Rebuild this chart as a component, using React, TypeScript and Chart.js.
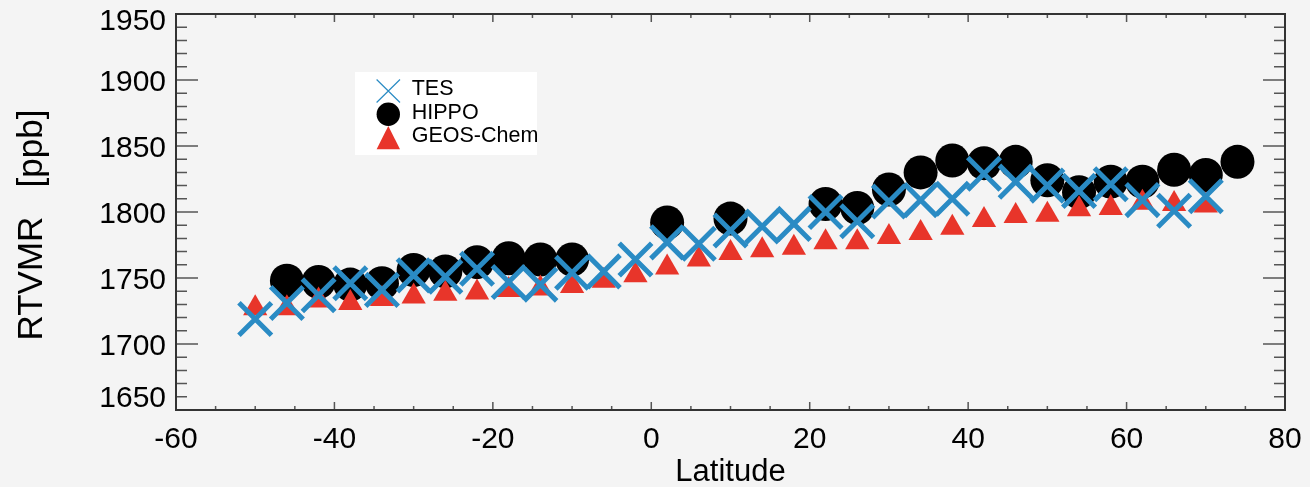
import React, { useEffect, useRef } from "react";
import { Chart, registerables } from "chart.js";

Chart.register(...registerables);

// ---- data ----
const latitudes = [-50, -46, -42, -38, -34, -30, -26, -22, -18, -14, -10, -6, -2, 2, 6, 10, 14, 18, 22, 26, 30, 34, 38, 42, 46, 50, 54, 58, 62, 66, 70, 74];

const tesValues = [1719, 1731, 1737, 1746, 1741, 1752, 1751, 1757, 1747, 1745, 1754, 1755, 1764, 1777, 1776, 1786, 1789, 1791, 1800, 1793, 1808, 1809, 1810, 1829, 1823, 1820, 1816, 1821, 1809, 1801, 1812, null];

const hippoValues = [null, 1748, 1747, 1745, 1746, 1756, 1755, 1762, 1765, 1764, 1764, null, null, 1792, null, 1795, null, null, 1806, 1803, 1817, 1830, 1839, 1837, 1838, 1824, 1815, 1823, 1823, 1832, 1828, 1838];

const geosValues = [1727, 1727, 1733, 1731, 1734, 1736, 1738, 1739, 1741, 1742, 1744, 1748, 1752, 1758, 1764, 1769, 1771, 1773, 1777, 1777, 1781, 1784, 1788, 1794, 1797, 1798, 1802, 1803, 1807, 1806, 1805, null];

const seriesNames = ["TES", "HIPPO", "GEOS-Chem"];
const xTitle = "Latitude";
const yTitle = "RTVMR   [ppb]";

const xMin = -60;
const xMax = 80;
const xMajorStep = 20;
const xMinorStep = 5;
const yMin = 1650;
const yMax = 1950;
const yMajorStep = 50;
const yMinorStep = 10;

// ---- styles ----
const FONT = "'Liberation Sans', Arial, Helvetica, sans-serif";
const BLUE = "#2a8bc4";
const RED = "#e8352a";
const BLACK = "#000000";
const BG = "#f4f4f4";

const toPoints = (vals: (number | null)[]) =>
  latitudes
    .map((lat, i) => ({ x: lat, y: vals[i] }))
    .filter((p) => p.y !== null) as { x: number; y: number }[];

const framePlugin = {
  id: "idlFrame",
  afterDraw(chart: any) {
    const { ctx, chartArea } = chart;
    const { left, right, top, bottom } = chartArea;
    const xs = chart.scales.x;
    const ys = chart.scales.y;
    ctx.save();
    ctx.strokeStyle = "#555";
    ctx.lineWidth = 1.5;
    ctx.beginPath();
    // y ticks (left & right, inward)
    for (let v = yMin; v <= yMax + 1e-6; v += yMinorStep) {
      const p = ys.getPixelForValue(v);
      const major = Math.abs((v - yMin) % yMajorStep) < 1e-6;
      const len = major ? 22 : 11;
      ctx.moveTo(left, p);
      ctx.lineTo(left + len, p);
      ctx.moveTo(right, p);
      ctx.lineTo(right - len, p);
    }
    // x ticks (bottom & top, inward)
    for (let v = xMin; v <= xMax + 1e-6; v += xMinorStep) {
      const p = xs.getPixelForValue(v);
      const major = Math.abs((v - xMin) % xMajorStep) < 1e-6;
      const len = major ? 8 : 4;
      ctx.moveTo(p, bottom);
      ctx.lineTo(p, bottom - len);
      ctx.moveTo(p, top);
      ctx.lineTo(p, top + len);
    }
    ctx.stroke();
    ctx.strokeStyle = "#333";
    ctx.lineWidth = 2;
    ctx.strokeRect(left, top, right - left, bottom - top);

    // y-axis title
    ctx.fillStyle = "#000";
    ctx.font = `35px ${FONT}`;
    ctx.textAlign = "center";
    ctx.textBaseline = "middle";
    ctx.translate(32.7, 225);
    ctx.rotate(-Math.PI / 2);
    ctx.fillText(yTitle, 0, 0);
    ctx.restore();

    // legend box
    ctx.save();
    ctx.fillStyle = "#ffffff";
    ctx.fillRect(355, 72, 182, 83);
    const mx = 388.3;
    // TES cross
    ctx.strokeStyle = BLUE;
    ctx.lineWidth = 1.2;
    ctx.beginPath();
    ctx.moveTo(mx - 11.7, 79.5);
    ctx.lineTo(mx + 11.7, 102.5);
    ctx.moveTo(mx + 11.7, 79.5);
    ctx.lineTo(mx - 11.7, 102.5);
    ctx.stroke();
    // HIPPO circle
    ctx.fillStyle = BLACK;
    ctx.beginPath();
    ctx.arc(mx, 114.3, 11.7, 0, Math.PI * 2);
    ctx.fill();
    // GEOS triangle
    ctx.fillStyle = RED;
    ctx.beginPath();
    ctx.moveTo(mx, 126);
    ctx.lineTo(mx + 11.7, 149.3);
    ctx.lineTo(mx - 11.7, 149.3);
    ctx.closePath();
    ctx.fill();
    // labels
    ctx.fillStyle = "#000";
    ctx.font = `21.5px ${FONT}`;
    ctx.textAlign = "left";
    ctx.textBaseline = "middle";
    ctx.fillText(seriesNames[0], 411.7, 89);
    ctx.fillText(seriesNames[1], 411.7, 113);
    ctx.fillText(seriesNames[2], 411.7, 136.4);
    ctx.restore();
  },
};

export default function App() {
  const canvasRef = useRef<HTMLCanvasElement | null>(null);

  useEffect(() => {
    if (!canvasRef.current) return;
    const chart = new Chart(canvasRef.current, {
      type: "scatter",
      data: {
        datasets: [
          {
            label: seriesNames[0],
            data: toPoints(tesValues),
            pointStyle: "crossRot",
            pointRadius: 23,
            pointBorderWidth: 5,
            pointBorderColor: BLUE,
            pointBackgroundColor: BLUE,
            borderColor: BLUE,
            backgroundColor: BLUE,
            showLine: false,
            order: 0,
          },
          {
            label: seriesNames[1],
            data: toPoints(hippoValues),
            pointStyle: "circle",
            pointRadius: 17,
            pointBorderWidth: 0,
            pointBackgroundColor: BLACK,
            pointBorderColor: BLACK,
            borderColor: BLACK,
            backgroundColor: BLACK,
            showLine: false,
            order: 2,
          },
          {
            label: seriesNames[2],
            data: toPoints(geosValues),
            pointStyle: "triangle",
            pointRadius: 14,
            pointBorderWidth: 0,
            pointBackgroundColor: RED,
            pointBorderColor: RED,
            borderColor: RED,
            backgroundColor: RED,
            showLine: false,
            order: 1,
          },
        ],
      },
      options: {
        animation: false,
        responsive: true,
        maintainAspectRatio: false,
        layout: { autoPadding: false, padding: { left: 0, right: 25, top: 14, bottom: 0 } },
        plugins: {
          legend: { display: false },
          tooltip: { enabled: false },
          title: { display: false },
        },
        events: [],
        scales: {
          x: {
            type: "linear",
            min: xMin,
            max: xMax,
            grid: { display: false, drawTicks: false },
            border: { display: false },
            ticks: {
              stepSize: xMajorStep,
              padding: 11.5,
              color: "#000",
              autoSkip: false,
              maxRotation: 0,
              font: { family: FONT, size: 30 },
            },
            title: {
              display: true,
              text: xTitle,
              color: "#000",
              font: { family: FONT, size: 31, lineHeight: 1 },
              padding: { top: 0, bottom: -1 },
            },
            afterFit: (s: any) => {
              s.height = 77;
              s.paddingLeft = 0;
              s.paddingRight = 0;
            },
          },
          y: {
            type: "linear",
            min: yMin,
            max: yMax,
            grid: { display: false, drawTicks: false },
            border: { display: false },
            ticks: {
              stepSize: yMajorStep,
              padding: 10,
              labelOffset: 2.5,
              color: "#000",
              autoSkip: false,
              callback: (value: any) => {
                const s = String(value);
                if (value === yMin) return [s, ""];
                if (value === yMax) return ["", s];
                return s;
              },
              font: (ctx: any) => {
                const v = ctx.tick ? ctx.tick.value : null;
                let lh: any = 1.2;
                if (v === yMin) lh = "27px";
                if (v === yMax) lh = "11px";
                return { family: FONT, size: 30, lineHeight: lh };
              },
            },
            afterFit: (s: any) => {
              s.width = 176;
              s.paddingTop = 0;
              s.paddingBottom = 0;
            },
          },
        },
      },
      plugins: [framePlugin],
    } as any);
    return () => chart.destroy();
  }, []);

  return (
    <div
      style={{
        position: "fixed",
        left: 0,
        top: 0,
        width: 1310,
        height: 487,
        background: BG,
      }}
    >
      <canvas ref={canvasRef} />
    </div>
  );
}
